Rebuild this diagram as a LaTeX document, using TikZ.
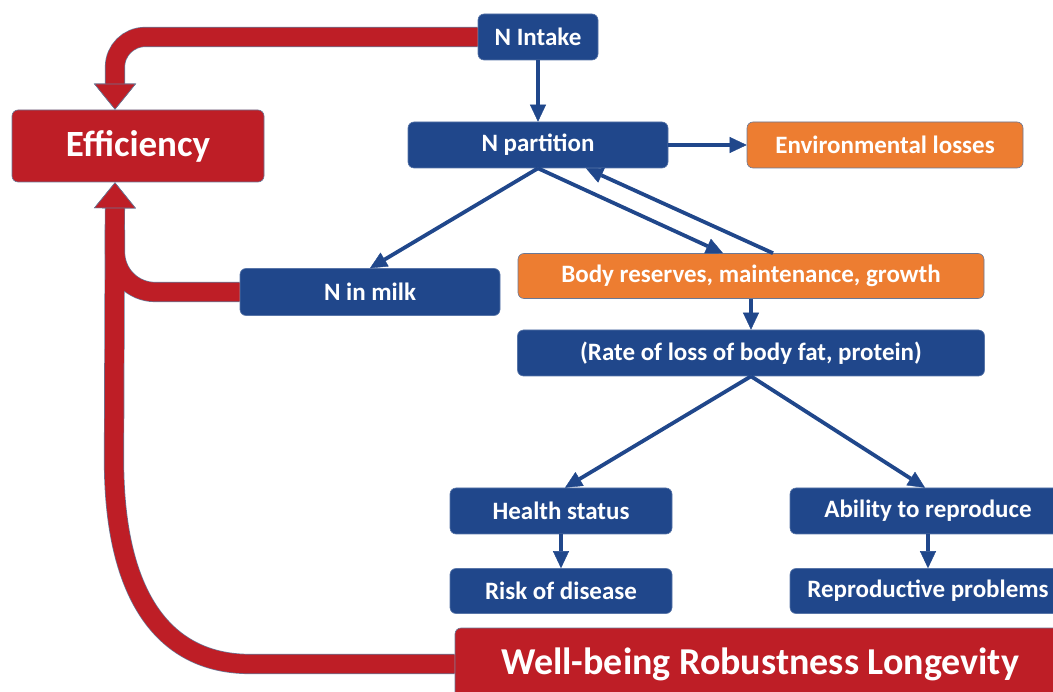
\documentclass[tikz,border=0pt]{standalone}
\usepackage{fontspec}
\setmainfont{Carlito}
\usetikzlibrary{arrows.meta}
\definecolor{nblue}{RGB}{32,71,139}
\definecolor{nred}{RGB}{190,30,38}
\definecolor{norange}{RGB}{237,125,49}
\definecolor{edgec}{RGB}{105,120,150}
\begin{document}
\begin{tikzpicture}[x=1pt,y=-1pt,
  box/.style={rounded corners=6pt, text=white, inner sep=0pt, line width=0.6pt,
    font=\bfseries\fontsize{25}{29}\selectfont},
  bluebox/.style={box, fill=nblue, draw=nblue!75!white},
  orangebox/.style={box, fill=norange, draw=edgec},
  redbox/.style={box, fill=nred, draw=edgec},
  barrow/.style={draw=nblue, line width=3.8pt, -{Triangle[width=16pt,length=17pt,line width=0.4pt]}},
  redout/.style={draw=edgec, line width=20.2pt},
  redin/.style={draw=nred, line width=18.8pt},
  otip/.style={-{Triangle[width=42pt,length=26pt,line width=0.6pt]}},
  rtip/.style={-{Triangle[width=42pt,length=26pt,line width=0.6pt,fill=nred,color=edgec]}}
]
\useasboundingbox (0,0) rectangle (1053,692);
\clip (0,0) rectangle (1053,692);

% nodes
\node[bluebox, minimum width=120pt, minimum height=46pt] (intake) at (538,37) {N Intake};
\node[redbox, minimum width=252pt, minimum height=72pt, font=\bfseries\fontsize{37}{42}\selectfont] (eff) at (138,146) {Efficiency};
\node[bluebox, minimum width=260pt, minimum height=46pt] (part) at (538,145) {N partition};
\node[orangebox, minimum width=276pt, minimum height=46pt] (env) at (885,145) {Environmental losses};
\node[bluebox, minimum width=260pt, minimum height=47pt] (milk) at (370,292) {N in milk};
\node[orangebox, minimum width=466pt, minimum height=45pt] (body) at (751,276) {Body reserves, maintenance, growth};
\node[bluebox, minimum width=467pt, minimum height=46pt] (rate) at (751,353) {(Rate of loss of body fat, protein)};
\node[bluebox, minimum width=222pt, minimum height=46pt] (health) at (561,511) {Health status};
\node[bluebox, minimum width=276pt, minimum height=46pt] (abil) at (928,511) {Ability to reproduce};
\node[bluebox, minimum width=222pt, minimum height=45pt] (risk) at (561,591) {Risk of disease};
\node[bluebox, minimum width=276pt, minimum height=45pt] (repro) at (928,591) {Reproductive problems};
\node[redbox, minimum width=610pt, minimum height=72pt, font=\bfseries\fontsize{38}{44}\selectfont] (wb) at (760,664) {Well-being Robustness Longevity};

% red connectors: outline pass
\coordinate (effin) at ([xshift=-23pt]eff.north);
\coordinate (effbot) at ([xshift=-23pt]eff.south);
\coordinate (c1) at (250,664);
\coordinate (c2) at (114,460);
\coordinate (j1) at (115,230);
\draw[redout, otip, rounded corners=30pt] (intake.west) -| (effin);
\draw[redout, rounded corners=40pt] (milk.west) -| (j1);
\draw[redout, otip] (wb.west) -- (c1) .. controls (160,664) and (114,590) .. (c2) -- (effbot);
% red connectors: fill pass
\draw[redin, rtip, rounded corners=30pt] (intake.west) -| (effin);
\draw[redin, rounded corners=40pt] (milk.west) -| (j1);
\draw[redin, rtip] (wb.west) -- (c1) .. controls (160,664) and (114,590) .. (c2) -- (effbot);

% blue connectors
\draw[barrow] (intake.south) -- (part.north);
\draw[barrow] (part.east) -- (env.west);
\draw[barrow] (part.south) -- (milk.north);
\draw[barrow] (part.south) -- ([xshift=-28pt]body.north);
\draw[barrow] ([xshift=22pt]body.north) -- ([xshift=48pt]part.south);
\draw[barrow] (body.south) -- (rate.north);
\draw[barrow] (rate.south) -- ([xshift=4pt]health.north);
\draw[barrow] (rate.south) -- ([xshift=-3pt]abil.north);
\draw[barrow] (health.south) -- (risk.north);
\draw[barrow] (abil.south) -- (repro.north);
\end{tikzpicture}
\end{document}
